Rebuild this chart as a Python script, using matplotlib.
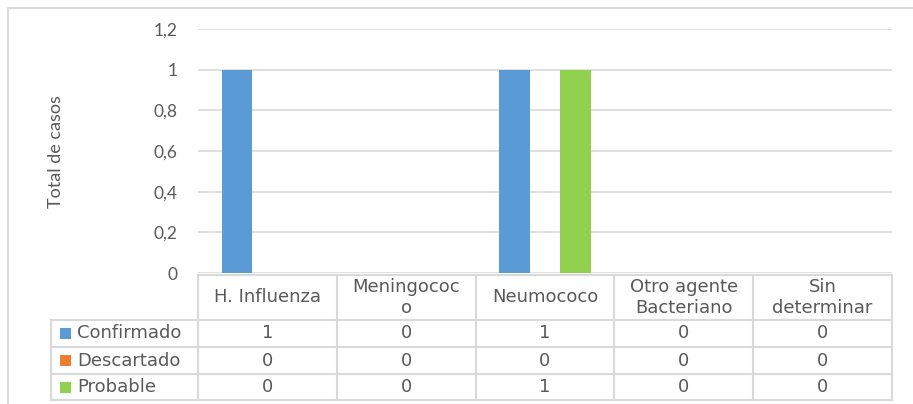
import matplotlib
matplotlib.use("Agg")
import matplotlib.pyplot as plt
import numpy as np

# Data
categories = ["H. Influenza", "Meningococo", "Neumococo", "Otro agente Bacteriano", "Sin determinar"]
header_labels = ["H. Influenza", "Meningococ\no", "Neumococo", "Otro agente\nBacteriano", "Sin\ndeterminar"]
series_names = ["Confirmado", "Descartado", "Probable"]
confirmado = [1, 0, 1, 0, 0]
descartado = [0, 0, 0, 0, 0]
probable = [0, 0, 1, 0, 0]
yticks = [0, 0.2, 0.4, 0.6, 0.8, 1.0, 1.2]
ytick_labels = ["0", "0,2", "0,4", "0,6", "0,8", "1", "1,2"]
y_label = "Total de casos"

colors = ["#5B9BD5", "#ED7D31", "#92D050"]
text_col = "#595959"
grid_col = "#D9D9D9"

W, H = 913, 404
fig = plt.figure(figsize=(W / 100, H / 100), dpi=100)
fig.patch.set_facecolor("white")

# Layout in pixels
plot_left, plot_right = 198, 892
plot_top, plot_bottom = 29, 273
row_edges = [320, 347, 374, 400]
legend_left = 51

ax = fig.add_axes([plot_left / W, 1 - plot_bottom / H,
                   (plot_right - plot_left) / W, (plot_bottom - plot_top) / H])
ax.set_zorder(2)
ax.patch.set_alpha(0)

x = np.arange(len(categories))
bw = 0.22
for i, (vals, c) in enumerate(zip([confirmado, descartado, probable], colors)):
    ax.bar(x + (i - 1) * bw, vals, width=bw, color=c, zorder=3)

ax.set_xlim(-0.5, len(categories) - 0.5)
ax.set_ylim(0, 1.2)
ax.set_yticks(yticks)
ax.set_yticklabels(ytick_labels, family=["Lato"], fontsize=12.5, color=text_col)
ax.tick_params(axis="y", length=0, pad=15)
ax.set_xticks([])
for s in ax.spines.values():
    s.set_visible(False)
ax.grid(axis="y", color=grid_col, linewidth=1.2, zorder=0)
ax.set_axisbelow(True)

# Overlay in pixel coordinates for the frame, axis title and data table
ov = fig.add_axes([0, 0, 1, 1])
ov.set_xlim(0, W)
ov.set_ylim(H, 0)
ov.axis("off")
ov.set_zorder(1)

# Chart frame
ov.plot([8, 8, W + 5], [H + 5, 8, 8], color=grid_col, lw=1.5)

ov.text(56, (plot_top + plot_bottom) / 2 + 1, y_label, rotation=90, ha="center", va="center",
        family=["Lato"], fontsize=13, color=text_col)

# Data table
ncol = len(categories)
col_edges = np.linspace(plot_left, plot_right, ncol + 1)
tk = dict(color=grid_col, lw=1.5, solid_capstyle="projecting")
ov.plot([plot_left, plot_right], [plot_bottom + 2, plot_bottom + 2], **tk)
for r in row_edges:
    ov.plot([legend_left, plot_right], [r, r], **tk)
ov.plot([legend_left, legend_left], [row_edges[0], row_edges[-1]], **tk)
for cx in col_edges:
    ov.plot([cx, cx], [plot_bottom + 2, row_edges[-1]], **tk)

tfont = dict(family=["DejaVu Sans"], fontsize=13, color=text_col)
hy = (plot_bottom + 2 + row_edges[0]) / 2
for j, lab in enumerate(header_labels):
    cx = (col_edges[j] + col_edges[j + 1]) / 2
    ov.text(cx, hy, lab, ha="center", va="center", linespacing=1.25, **tfont)

for i, (name, vals, c) in enumerate(zip(series_names, [confirmado, descartado, probable], colors)):
    cy = (row_edges[i] + row_edges[i + 1]) / 2
    ov.add_patch(plt.Rectangle((60, cy - 5.5), 11, 11, color=c, lw=0))
    ov.text(77, cy, name, ha="left", va="center", **tfont)
    for j, v in enumerate(vals):
        cx = (col_edges[j] + col_edges[j + 1]) / 2
        ov.text(cx, cy, str(v), ha="center", va="center", **tfont)

fig.savefig("out.png", dpi=100, facecolor="white")
